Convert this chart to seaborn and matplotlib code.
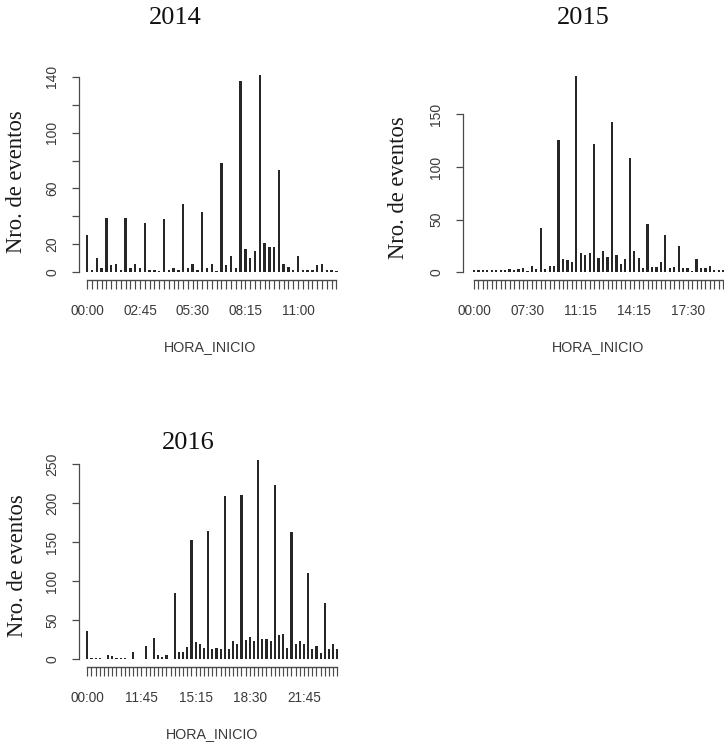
import matplotlib
matplotlib.use("Agg")
import matplotlib.pyplot as plt
import seaborn as sns
import pandas as pd

# ---------------- data ----------------
times_2014 = ["00:00","00:15","00:30","00:45","01:00","01:15","01:30","01:45","02:00","02:15",
              "02:30","02:45","03:00","03:15","03:30","03:45","04:00","04:15","04:30","04:45",
              "05:00","05:15","05:30","05:45","06:00","06:15","06:30","06:45","07:00","07:15",
              "07:30","07:45","08:00","08:15","08:30","08:45","09:00","09:15","09:30","09:45",
              "10:00","10:15","10:30","10:45","11:00","11:15","11:30","11:45","12:00","12:15",
              "12:30","12:45","13:00"]
counts_2014 = [27,2,10,3,39,5,6,2,39,3,6,3,35,2,2,1,38,2,3,2,49,3,6,2,43,3,6,1,78,5,12,3,
               137,17,10,15,141,21,18,18,73,6,4,2,12,2,2,2,5,6,2,2,1]

times_2015 = ["00:00","00:30","01:00","01:30","02:00","03:00","04:00","05:00","05:30","06:00",
              "06:30","07:00","07:30","08:00","08:30","09:00","09:15","09:30","09:45","10:00",
              "10:15","10:30","10:45","11:00","11:15","11:30","11:45","12:00","12:15","12:30",
              "12:45","13:00","13:15","13:30","13:45","14:00","14:15","14:30","14:45","15:00",
              "15:15","15:30","15:45","16:00","16:15","16:30","17:00","17:15","17:30","17:45",
              "18:00","18:15","18:30","18:45","19:00","19:15","19:30"]
counts_2015 = [2,2,2,2,2,2,2,2,3,2,3,4,1,6,3,42,3,6,6,126,13,12,10,186,18,16,18,122,14,20,
               15,143,16,8,13,109,20,14,4,46,5,5,10,35,4,5,25,4,4,1,13,4,4,6,2,2,2]

times_2016 = ["00:00","01:00","02:00","03:00","04:00","05:00","06:00","07:00","08:00","09:00",
              "10:00","11:00","11:30","11:45","12:00","12:15","12:30","12:45","13:00","13:15",
              "13:45","14:00","14:15","14:30","14:45","15:00","15:15","15:30","15:45","16:00",
              "16:15","16:30","16:45","17:00","17:15","17:30","17:45","18:00","18:15","18:30",
              "18:45","19:00","19:15","19:30","19:45","20:00","20:15","20:30","20:45","21:00",
              "21:15","21:30","21:45","22:00","22:15","22:30","22:45","23:00","23:15","23:30",
              "23:45"]
counts_2016 = [36,2,2,2,1,5,4,2,2,2,1,10,1,1,17,1,27,5,3,6,1,85,10,10,16,153,22,19,14,164,
               13,15,13,209,13,23,19,211,25,28,23,255,26,26,23,224,31,32,15,163,20,23,20,111,
               13,17,8,72,13,20,13]

yticks_2014 = [0, 20, 40, 60, 80, 100, 120, 140]
ylabels_2014 = ["0", "20", "", "60", "", "100", "", "140"]
yticks_2015 = [0, 50, 100, 150]
ylabels_2015 = ["0", "50", "100", "150"]
yticks_2016 = [0, 50, 100, 150, 200, 250]
ylabels_2016 = ["0", "50", "100", "150", "200", "250"]

# ---------------- style ----------------
sns.set_style("white")
plt.rcParams["font.family"] = ["Liberation Sans", "DejaVu Sans"]

W, H, DPI = 724, 744, 100
fig = plt.figure(figsize=(W / DPI, H / DPI), dpi=DPI)
fig.patch.set_facecolor("white")

BAR = "#262626"
AX = "#4a4a4a"
TXT = "#3a3a3a"
SERIF = ["Liberation Serif", "DejaVu Serif"]


def px_axes(left, top, right, bottom):
    return fig.add_axes([left / W, 1 - bottom / H, (right - left) / W, (bottom - top) / H])


def panel(times, counts, every, yt, ylab, left, right, top, base, x0, step, ppu,
          title, txy, yxy, xxy):
    ax = px_axes(left, top, right, base)
    df = pd.DataFrame({"HORA_INICIO": times, "n": counts})
    sns.barplot(data=df, x="HORA_INICIO", y="n", order=times, ax=ax, color=BAR,
                saturation=1, width=0.5, linewidth=0)
    n = len(times)
    ax.set_xlim(-(x0 - left) / step, (right - x0) / step)
    ax.set_ylim(0, (base - top) / ppu)
    ax.patch.set_visible(False)
    for s in ("top", "right"):
        ax.spines[s].set_visible(False)
    ax.spines["left"].set_bounds(yt[0], yt[-1])
    ax.spines["left"].set_color(AX)
    ax.spines["left"].set_linewidth(0.9)
    ax.spines["bottom"].set_position(("outward", 5.2))
    ax.spines["bottom"].set_bounds(0, n - 1)
    ax.spines["bottom"].set_color(AX)
    ax.spines["bottom"].set_linewidth(1.0)

    ax.set_xticks(range(n))
    ax.set_xticklabels([t if i % every == 0 else "" for i, t in enumerate(times)],
                       fontsize=9.8, color=TXT)
    ax.set_yticks(yt)
    ax.set_yticklabels(ylab, rotation=90, va="center", fontsize=10, color=TXT)
    ax.tick_params(axis="x", bottom=True, length=6.5, width=0.85, color=AX,
                   direction="out", pad=11)
    ax.tick_params(axis="y", left=True, length=5.2, width=0.9, color=AX,
                   direction="out", pad=9)
    ax.set_xlabel("")
    ax.set_ylabel("")

    fig.text(txy[0] / W, 1 - txy[1] / H, title, ha="center", va="center",
             family=SERIF, fontsize=19, color="#111111")
    fig.text(yxy[0] / W, 1 - yxy[1] / H, "Nro. de eventos", ha="center", va="center",
             rotation=90, family=SERIF, fontsize=16.3, color="#1a1a1a")
    fig.text(xxy[0] / W, 1 - xxy[1] / H, "HORA_INICIO", ha="center", va="center",
             fontsize=10.3, color=TXT)
    return ax


panel(times_2014, counts_2014, 11, yticks_2014, ylabels_2014,
      left=79, right=346, top=60, base=272.3, x0=87.3, step=4.79, ppu=1.397,
      title="2014", txy=(175, 18), yxy=(17, 182), xxy=(210, 347))

panel(times_2015, counts_2015, 12, yticks_2015, ylabels_2015,
      left=463, right=735, top=60, base=272.3, x0=474, step=4.45, ppu=1.053,
      title="2015", txy=(583, 18), yxy=(398, 188), xxy=(598, 347))

panel(times_2016, counts_2016, 13, yticks_2016, ylabels_2016,
      left=79, right=346, top=450, base=659.3, x0=87.3, step=4.167, ppu=0.78,
      title="2016", txy=(188, 443), yxy=(18, 566), xxy=(212, 734))

fig.savefig("out.png", dpi=DPI)
